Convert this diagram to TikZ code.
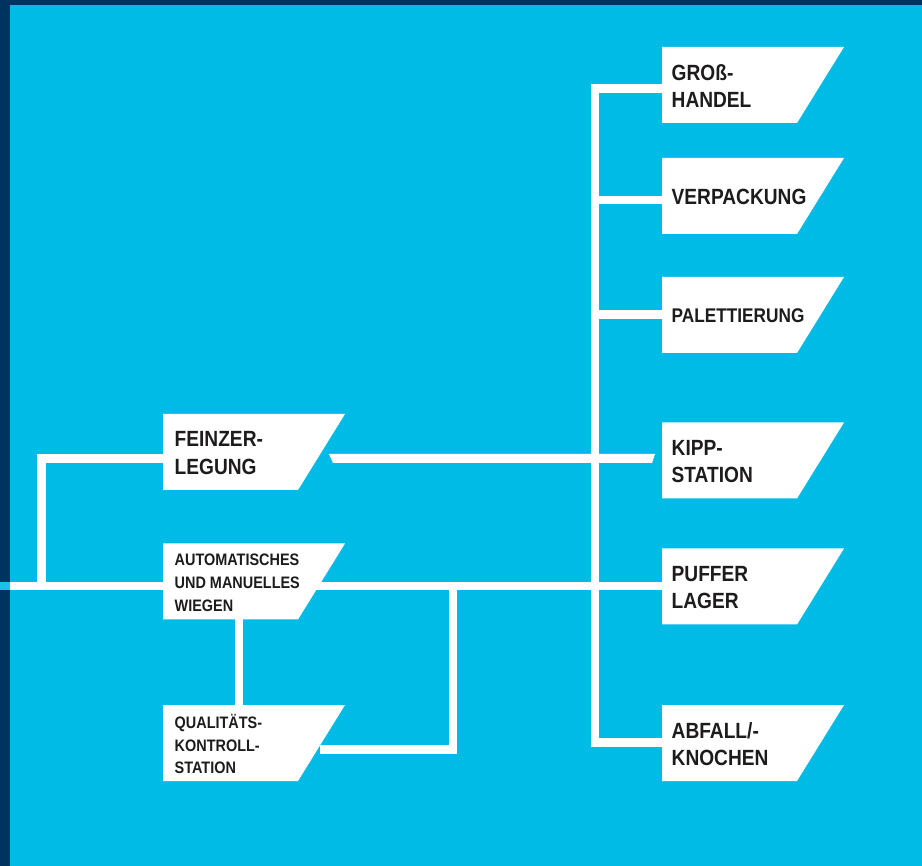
\documentclass[tikz,border=0pt]{standalone}
\usepackage{fontspec}
\setmainfont{Liberation Sans}[FakeStretch=0.87]
\definecolor{cyanbg}{RGB}{0,187,230}
\definecolor{navy}{RGB}{0,52,96}
\definecolor{ink}{RGB}{30,27,28}
\tikzset{
  conn/.style={draw=white, line width=8.5pt, line join=miter},
  boxfill/.style={fill=white},
  lbl/.style={text=ink, align=left, anchor=west, inner sep=0pt},
  lbig/.style={lbl, font=\fontsize{22}{27.3}\selectfont\bfseries},
  lmid/.style={lbl, font=\fontsize{19.8}{24}\selectfont\bfseries},
  lsmall/.style={lbl, font=\fontsize{16.6}{22.8}\selectfont\bfseries},
}
% name, x, y(top), text, style, text padding
\newcommand\slbox[6]{%
  \fill[boxfill] (#2,#3) -- ++(182,0) -- ++(-47,76) -- ++(-135,0) -- cycle;
  \coordinate (#1-w) at (#2,#3+38);
  \node[#5] (#1) at (#2+#6,#3+39) {#4};
}
\begin{document}
\begin{tikzpicture}[x=1pt,y=-1pt]
\useasboundingbox (0,0) rectangle (922,866);
% background
\fill[cyanbg] (0,0) rectangle (922,866);
\fill[navy] (0,0) rectangle (10,866);
\fill[navy] (0,0) rectangle (922,5);

% named junction coordinates
\coordinate (mainL) at (0,586);
\coordinate (mainS) at (10,586);
\coordinate (pufferL) at (662,586);
\coordinate (leftJ) at (41.5,586);
\coordinate (feinzL) at (163,458.5);
\coordinate (autoB) at (239,619.5);
\coordinate (qualT) at (239,705);
\coordinate (qualR) at (320,749.5);
\coordinate (qualJ) at (453,586);
\coordinate (grossL) at (662,88.5);
\coordinate (verpL) at (662,200);
\coordinate (palL) at (662,314.5);
\coordinate (abfallL) at (662,742.5);
\coordinate (busTop) at (595,88.5);
\coordinate (busBot) at (595,742.5);
\coordinate (busV) at (595,200);
\coordinate (busP) at (595,314.5);
\coordinate (fzA) at (329,454);
\coordinate (fzB) at (333,463);
\coordinate (kpA) at (655,454);
\coordinate (kpB) at (652,463);

% connectors
\fill[white] (mainS |- 0,581.8) rectangle (pufferL |- 0,590.2);
\fill[cyanbg!90!white] (mainL |- 0,581.8) rectangle (mainS |- 0,590.2);
\draw[conn] (feinzL) -| (leftJ);
\draw[conn] (autoB) -- (qualT);
\draw[conn] (qualR) -| (qualJ);
\draw[conn] (grossL) -- (busTop) -- (busBot) -- (abfallL);
\draw[conn] (busV) -- (verpL);
\draw[conn] (busP) -- (palL);
\fill[white] (fzA) -- (kpA) -- (kpB) -- (fzB) -- cycle;

% boxes
\slbox{gross}{662}{47}{GROß-\\HANDEL}{lbig}{9.5}
\slbox{verp}{662}{158}{VERPACKUNG}{lbig}{9.5}
\slbox{pal}{662}{277}{PALETTIERUNG}{lmid}{9.5}
\slbox{kipp}{662}{422.5}{KIPP-\\STATION}{lbig}{9.5}
\slbox{puffer}{662}{548.5}{PUFFER\\LAGER}{lbig}{9.5}
\slbox{abfall}{662}{705}{ABFALL/-\\KNOCHEN}{lbig}{9.5}
\slbox{feinz}{163}{414}{FEINZER-\\LEGUNG}{lbig}{11.5}
\slbox{auto}{163}{543.5}{AUTOMATISCHES\\UND MANUELLES\\WIEGEN}{lsmall}{11.5}
\slbox{qual}{163}{705}{QUALITÄTS-\\KONTROLL-\\STATION}{lsmall}{11.5}
\end{tikzpicture}
\end{document}
